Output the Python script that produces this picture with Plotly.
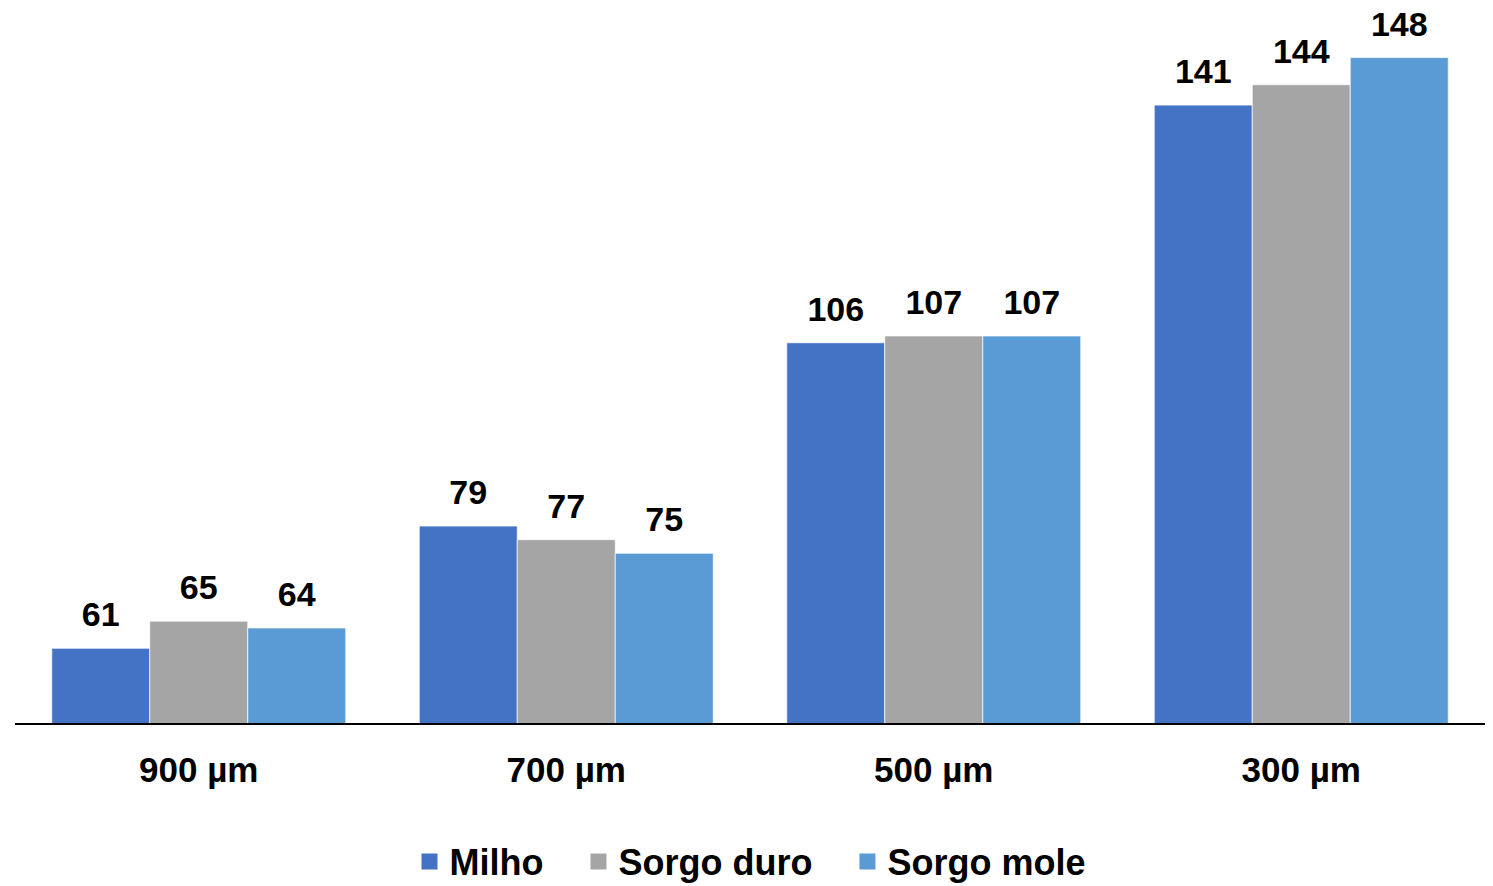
import plotly.graph_objects as go

categories = ["900 µm", "700 µm", "500 µm", "300 µm"]
series_names = ["Milho", "Sorgo duro", "Sorgo mole"]
milho = [61, 79, 106, 141]
sorgo_duro = [65, 77, 107, 144]
sorgo_mole = [64, 75, 107, 148]
colors = ["#4472C4", "#A5A5A5", "#5B9BD5"]

FONT = "Liberation Sans, Arial, sans-serif"
values = [milho, sorgo_duro, sorgo_mole]

fig = go.Figure()
for i, (name, vals, col) in enumerate(zip(series_names, values, colors)):
    fig.add_trace(go.Bar(
        x=categories, y=vals, name=name, offsetgroup=str(i), showlegend=False,
        marker=dict(color=col, line=dict(color="rgba(255,255,255,0.7)", width=1)),
        hoverinfo="x+y",
    ))
for i, (name, vals) in enumerate(zip(series_names, values)):
    fig.add_trace(go.Scatter(
        x=categories, y=vals, offsetgroup=str(i), mode="markers+text",
        text=[str(v) for v in vals], textposition="top center",
        marker=dict(size=20, opacity=0),
        textfont=dict(family=FONT, size=34, color="black", weight="bold"),
        showlegend=False, hoverinfo="skip", cliponaxis=False,
    ))
# legend entries
for i, (name, col) in enumerate(zip(series_names, colors)):
    legend_name = name + ("\u00a0\u00a0\u00a0" if i < 2 else "")
    fig.add_trace(go.Scatter(
        x=[None], y=[None], offsetgroup=str(i), mode="markers", name=legend_name,
        marker=dict(symbol="square", size=17, color=col),
        showlegend=True, hoverinfo="skip",
    ))

fig.update_layout(
    width=1493, height=886,
    margin=dict(l=15, r=8, t=44, b=163, autoexpand=False),
    paper_bgcolor="white", plot_bgcolor="white",
    barmode="group", bargap=0.2, bargroupgap=0,
    scattermode="group", scattergap=0.2,
    showlegend=True,
    legend=dict(orientation="h", x=0.5, xanchor="center", y=-0.204, yanchor="middle",
                font=dict(family=FONT, size=36, color="black", weight="bold"),
                itemclick=False, itemsizing="trace"),
    xaxis=dict(showline=True, linecolor="black", linewidth=2, ticks="outside",
               ticklen=15, tickcolor="rgba(0,0,0,0)",
               tickfont=dict(family=FONT, size=35, color="black", weight="bold"),
               showgrid=False, zeroline=False),
    yaxis=dict(range=[50, 150], visible=False, showgrid=False, zeroline=False),
)

fig.write_html("out.html")
